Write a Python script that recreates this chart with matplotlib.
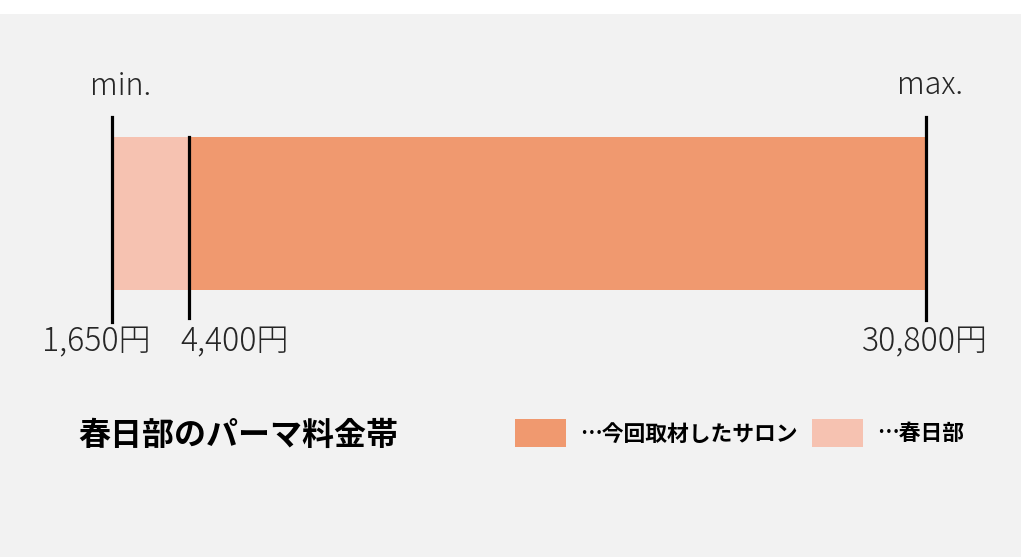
import matplotlib
matplotlib.use("Agg")
import matplotlib.pyplot as plt
from matplotlib.patches import Rectangle

plt.rcParams['font.family'] = ['Noto Sans CJK JP', 'DejaVu Sans']

# ---- data ----
price_min = 1650          # 春日部 minimum
price_salon_min = 4400    # 今回取材したサロン minimum
price_max = 30800         # maximum
tick_values = [1650, 4400, 30800]
tick_labels = ["1,650円", "4,400円", "30,800円"]
title = "春日部のパーマ料金帯"
legend_labels = ["…今回取材したサロン", "…春日部"]

c_salon = "#f0996f"
c_kasukabe = "#f6c2b1"
bg = "#f2f2f2"

W, H = 1024, 557
fig = plt.figure(figsize=(W / 100, H / 100), dpi=100)
fig.patch.set_facecolor("white")

def fy(py):
    return (H - py) / H

# overlay axes in pixel coords for background, title and legend
ox = fig.add_axes([0, 0, 1, 1], zorder=0)
ox.set_xlim(0, W)
ox.set_ylim(H, 0)
ox.axis("off")
ox.add_patch(Rectangle((0, 14), 1021, H - 14, facecolor=bg, edgecolor="none", zorder=0))

# data axes: x in yen, y 0..1 between pixel 322 (bottom) and 117 (top)
ax = fig.add_axes([112 / W, fy(322), 814 / W, (322 - 117) / H], zorder=1)
ax.set_xlim(price_min, price_max)
ax.set_ylim(0, 1)
ax.axis("off")

def ay(py):
    return (322 - py) / (322 - 117)

bar_bottom = ay(290)
bar_height = ay(137) - ay(290)
ax.barh(bar_bottom, price_max - price_min, left=price_min, height=bar_height,
        align="edge", color=c_kasukabe, clip_on=False, zorder=1)
ax.barh(bar_bottom, price_max - price_salon_min, left=price_salon_min, height=bar_height,
        align="edge", color=c_salon, clip_on=False, zorder=2)

line_spans = [(ay(322), ay(117)), (ay(318), ay(137)), (ay(320), ay(117))]
for v, (y0, y1) in zip(tick_values, line_spans):
    ax.axvline(v, ymin=y0, ymax=y1, color="black", lw=2.3, clip_on=False, zorder=3)

# tick labels below
label_offsets = [(-16, 0, "center"), (-8, 0, "left"), (-1, 0, "center")]
for v, lab, (dx, dy, ha) in zip(tick_values, tick_labels, label_offsets):
    ax.annotate(lab, xy=(v, ay(342)), xytext=(dx, dy), textcoords="offset pixels",
                ha=ha, va="center", fontsize=23, fontweight="light", color="#262626",
                annotation_clip=False)

# min / max
ax.annotate("min.", xy=(price_min, ay(95)), xytext=(9, 0), textcoords="offset pixels",
            ha="center", va="baseline", fontsize=22, fontweight="light", color="#262626",
            annotation_clip=False)
ax.annotate("max.", xy=(price_max, ay(94)), xytext=(4, 0), textcoords="offset pixels",
            ha="center", va="baseline", fontsize=22, fontweight="light", color="#262626",
            annotation_clip=False)

ox.text(78, 436, title, ha="left", va="center", fontsize=23, fontweight="bold", color="black")

ox.add_patch(Rectangle((515, 419), 51, 28, facecolor=c_salon, edgecolor="none"))
ox.text(580, 434, legend_labels[0], ha="left", va="center", fontsize=15.7,
        fontweight="bold", color="black")
ox.add_patch(Rectangle((812, 419), 51, 28, facecolor=c_kasukabe, edgecolor="none"))
ox.text(877, 434, legend_labels[1], ha="left", va="center", fontsize=15.7,
        fontweight="bold", color="black")

fig.savefig("out.png", dpi=100, facecolor=fig.get_facecolor())
